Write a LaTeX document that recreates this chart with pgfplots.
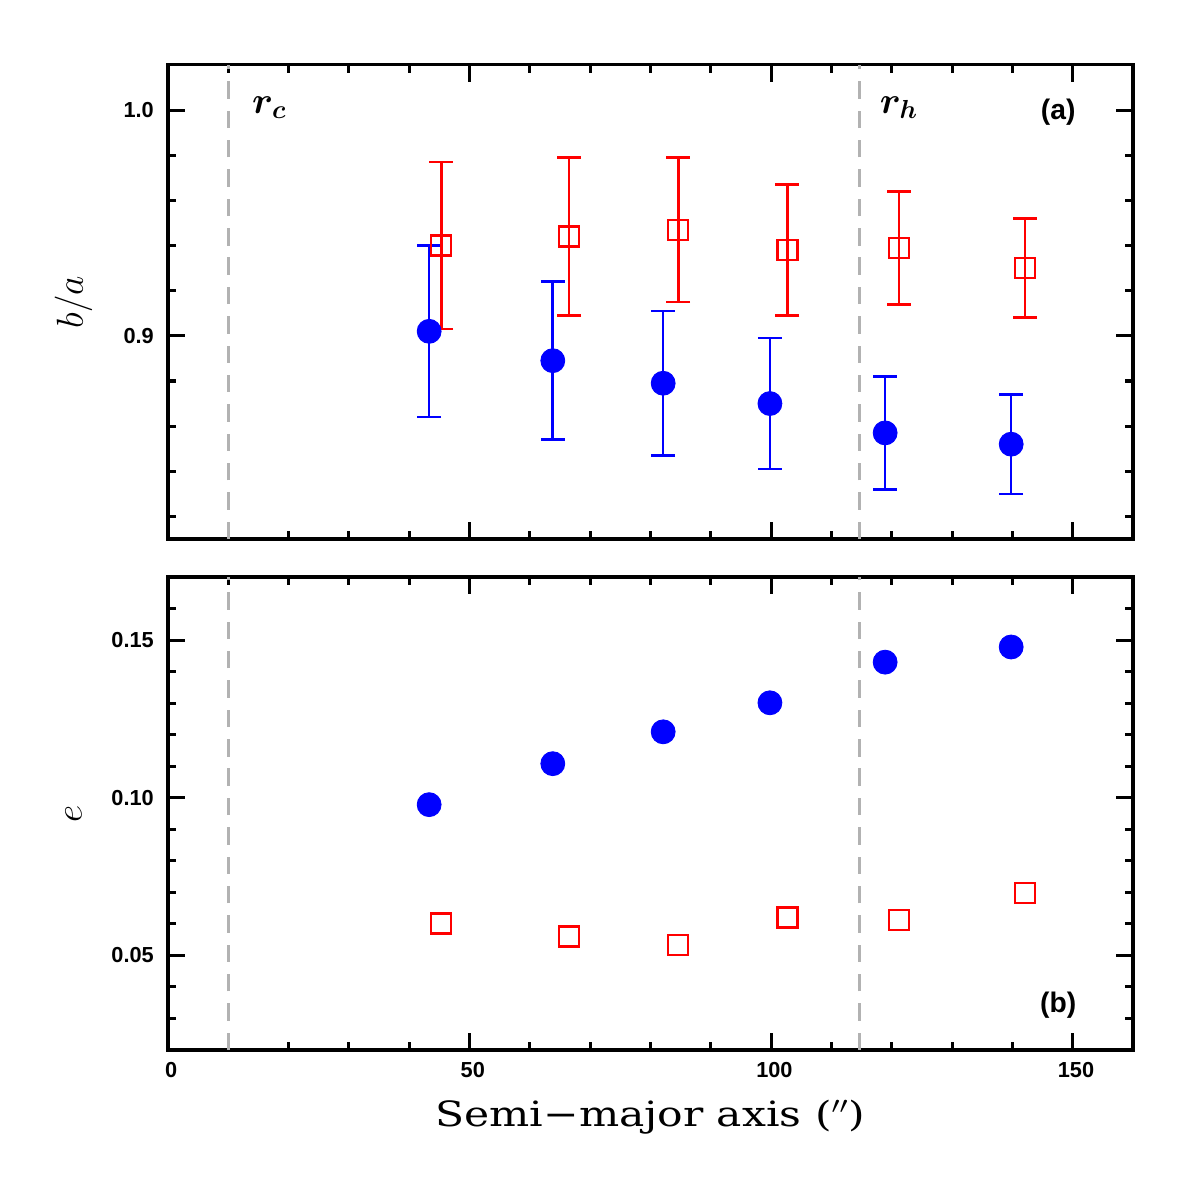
\documentclass[border=0pt]{standalone}
\usepackage{fontspec}
\usepackage{bm}
\usepackage{graphicx}
\usepackage{pgfplots}
\pgfplotsset{compat=1.18}
\newfontfamily\tickfont{Liberation Sans}
\newfontfamily\labelfont{DejaVu Serif}

\pgfplotstableread{
x y err
43.3 0.902 0.038
63.8 0.889 0.035
82.1 0.879 0.032
99.8 0.870 0.029
118.9 0.857 0.025
139.8 0.852 0.022
}\blueba
\pgfplotstableread{
x y err
45.3 0.940 0.037
66.5 0.944 0.035
84.6 0.947 0.032
102.7 0.938 0.029
121.2 0.939 0.025
142.1 0.930 0.022
}\redba
\pgfplotstableread{
x y
43.3 0.0978
63.8 0.1108
82.1 0.1209
99.8 0.1301
118.9 0.1430
139.8 0.1478
}\bluee
\pgfplotstableread{
x y
45.3 0.0601
66.5 0.0560
84.6 0.0532
102.7 0.0620
121.2 0.0611
142.1 0.0699
}\rede

\pgfplotsset{
  myax/.style={
    scale only axis, width=443.9pt,
    xmin=0, xmax=160,
    axis line style={line width=1.4pt},
    major tick style={black,line width=1.4pt},
    minor tick style={black,line width=1.4pt},
    major tick length=7.8pt, minor tick length=3.7pt,
    tick align=inside,
    xtick={0,50,100,150},
    minor xtick={10,20,30,40,60,70,80,90,110,120,130,140},
    ticklabel style={font=\tickfont\bfseries\fontsize{10}{12}\selectfont},
    yticklabel style={xshift=-3pt},
    xticklabel style={yshift=-2pt, xshift=1.5pt},
    ylabel style={font=\fontsize{19}{22}\selectfont, at={(axis description cs:-0.098,0.5)}, anchor=center},
  },
  vline/.style={gray!60, line width=1.3pt, dash pattern=on 8pt off 5.5pt, forget plot},
}

\begin{document}
\begin{tikzpicture}
\path (0,0) rectangle (550.16pt,550.16pt);
% top panel
\begin{axis}[myax, at={(77.28pt,302.22pt)}, anchor=south west, height=218.04pt,
  ymin=0.81, ymax=1.02,
  ytick={0.9,1.0}, yticklabels={0.9,1.0},
  minor ytick={0.82,0.84,0.86,0.88,0.92,0.94,0.96,0.98},
  xticklabels={,,,,},
  ylabel={$b/a$}]
\addplot[vline] coordinates {(10,0.81) (10,1.02)};
\addplot[vline] coordinates {(114.7,0.81) (114.7,1.02)};
\addplot[blue, only marks, mark=*, mark size=5.5pt, mark options={solid, fill=blue},
  error bars/.cd, y dir=both, y explicit,
  error bar style={line width=1.2pt},
  error mark options={rotate=90, mark size=5.5pt, line width=1.2pt}]
  table[x=x, y=y, y error=err] {\blueba};
\addplot[red, only marks, mark=square, mark size=4.6pt, mark options={solid, line width=1pt},
  error bars/.cd, y dir=both, y explicit,
  error bar style={line width=1.2pt},
  error mark options={rotate=90, mark size=5.5pt, line width=1.2pt}]
  table[x=x, y=y, y error=err] {\redba};
\node[anchor=base, font=\fontsize{17}{20}\selectfont] at (axis cs:16.8,0.9987) {$\bm{r_c}$};
\node[anchor=base, font=\fontsize{17}{20}\selectfont] at (axis cs:121.2,0.9987) {$\bm{r_h}$};
\node[anchor=center, font=\tickfont\bfseries\fontsize{13}{15}\selectfont] at (axis cs:147.6,0.9991) {(a)};
\end{axis}
% bottom panel
\begin{axis}[myax, at={(77.28pt,67.16pt)}, anchor=south west, height=217.58pt,
  ymin=0.02, ymax=0.17,
  ytick={0.05,0.10,0.15}, yticklabels={0.05,0.10,0.15},
  minor ytick={0.03,0.04,0.06,0.07,0.08,0.09,0.11,0.12,0.13,0.14,0.16},
  xticklabels={0,50,100,150},
  ylabel={$e$},
  xlabel={\scalebox{1.22}[1]{Semi−major axis ($''$)}},
  xlabel style={font=\labelfont\fontsize{16}{19}\selectfont, at={(axis description cs:0.5,-0.142)}, anchor=center}]
\addplot[vline] coordinates {(10,0.02) (10,0.17)};
\addplot[vline] coordinates {(114.7,0.02) (114.7,0.17)};
\addplot[blue, only marks, mark=*, mark size=5.5pt, mark options={solid, fill=blue}] table[x=x, y=y] {\bluee};
\addplot[red, only marks, mark=square, mark size=4.6pt, mark options={solid, line width=1pt}] table[x=x, y=y] {\rede};
\node[anchor=center, font=\tickfont\bfseries\fontsize{13}{15}\selectfont] at (axis cs:147.6,0.0342) {(b)};
\end{axis}
\end{tikzpicture}
\end{document}
